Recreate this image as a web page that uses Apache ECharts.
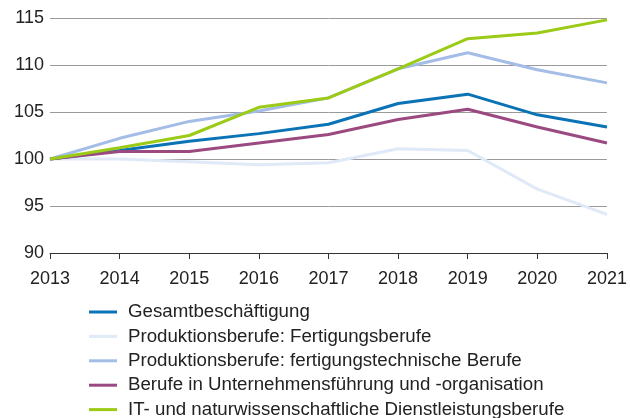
<!DOCTYPE html>
<html>
<head>
<meta charset="utf-8">
<script src="https://cdn.jsdelivr.net/npm/echarts@6/dist/echarts.min.js"></script>
<style>
  html, body { margin: 0; padding: 0; background: #fff; }
  #chart { width: 630px; height: 418px; }
</style>
</head>
<body>
<div id="chart"></div>
<script>
const years = ['2013', '2014', '2015', '2016', '2017', '2018', '2019', '2020', '2021']

const gesamt = [100, 100.9, 101.9, 102.7, 103.7, 105.9, 106.9, 104.7, 103.4]
const fertigung = [100, 100.0, 99.7, 99.4, 99.6, 101.1, 100.9, 96.8, 94.1]
const fertigungstechnisch = [100, 102.2, 104.0, 105.1, 106.5, 109.6, 111.3, 109.5, 108.1]
const unternehmen = [100, 100.8, 100.8, 101.7, 102.6, 104.2, 105.3, 103.4, 101.7]
const itNatur = [100, 101.2, 102.5, 105.5, 106.5, 109.6, 112.8, 113.4, 114.8]

const seriesNames = [
  'Gesamtbeschäftigung',
  'Produktionsberufe: Fertigungsberufe',
  'Produktionsberufe: fertigungstechnische Berufe',
  'Berufe in Unternehmensführung und -organisation',
  'IT- und naturwissenschaftliche Dienstleistungsberufe'
]
const seriesData = [gesamt, fertigung, fertigungstechnisch, unternehmen, itNatur]
const colors = ['#0a73b6', '#dfe9f8', '#a3bde6', '#9a4a80', '#9bcb17']

const font = '"Liberation Sans", Arial, sans-serif'

const chart = echarts.init(document.getElementById('chart'))

// one legend per row so the rows keep the reference's tight spacing
const legendRowTop = 302
const legendRowStep = 24.4

const option = {
  animation: false,
  color: colors,
  grid: {
    left: 50,
    right: 20,
    top: 18,
    height: 235
  },
  legend: seriesNames.map((name, i) => ({
    orient: 'vertical',
    left: 89,
    top: legendRowTop + i * legendRowStep,
    padding: 0,
    itemWidth: 28,
    itemHeight: 3,
    icon: 'rect',
    textStyle: { fontFamily: font, fontSize: 18.7, lineHeight: 20, color: '#222', padding: [0, 0, 0, 6] },
    data: [name]
  })),
  xAxis: {
    type: 'category',
    data: years,
    boundaryGap: false,
    axisLine: { lineStyle: { color: '#333', width: 1 } },
    axisTick: { show: true, length: 6, lineStyle: { color: '#333' } },
    axisLabel: { fontFamily: font, fontSize: 18, color: '#222', margin: 17 },
    splitLine: { show: false }
  },
  yAxis: {
    type: 'value',
    min: 90,
    max: 115,
    interval: 5,
    axisLine: { show: false },
    axisTick: { show: false },
    axisLabel: { fontFamily: font, fontSize: 18, color: '#222', margin: 6 },
    splitLine: { lineStyle: { color: '#9a9a9a', width: 1 } }
  },
  series: seriesNames.map((name, i) => ({
    name: name,
    type: 'line',
    data: seriesData[i],
    symbol: 'none',
    lineStyle: { width: 3 },
    z: i === 1 ? 1 : 2 + i
  }))
}

chart.setOption(option)
</script>
</body>
</html>
